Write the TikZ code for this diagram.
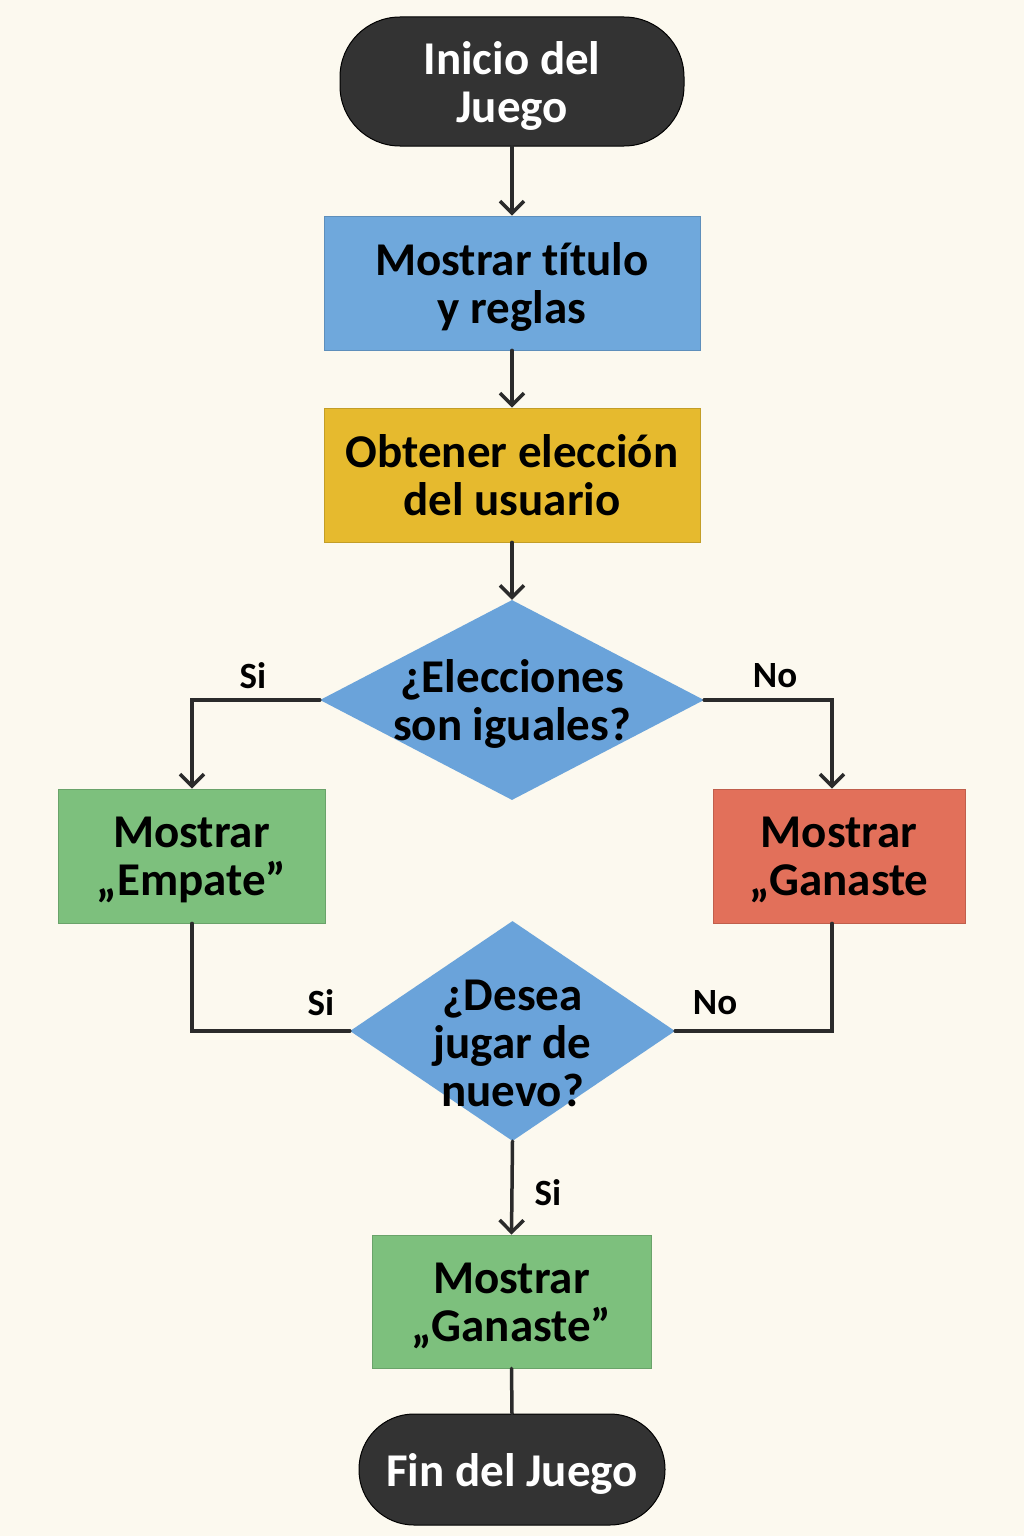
\documentclass[tikz,border=0pt]{standalone}
\usepackage{fontspec}
\setmainfont{Carlito}[Ligatures=NoCommon]
\usetikzlibrary{shapes.geometric,arrows.meta}
\definecolor{bg}{HTML}{FCF9EF}
\definecolor{term}{HTML}{333333}
\definecolor{bblue}{HTML}{6FA8DC}
\definecolor{byellow}{HTML}{E6BA2E}
\definecolor{dblue}{HTML}{6AA3DA}
\definecolor{bgreen}{HTML}{7DC07D}
\definecolor{bred}{HTML}{E2705A}
\definecolor{line}{HTML}{2B2B2B}
\begin{document}
\begin{tikzpicture}[x=1pt,y=-1pt,
  txt/.style={font=\fontsize{47}{48}\selectfont\bfseries, align=center, text=black, yshift=-4pt},
  terminal/.style={rounded corners=60pt, fill=term, draw=black, line width=1pt, inner sep=0pt},
  procbox/.style={draw=#1!85!black, line width=0.8pt, fill=#1, inner sep=0pt},
  decision/.style={diamond, fill=dblue, inner sep=0pt},
  conn/.style={draw=line, line width=3.5pt, line cap=round, line join=miter},
  arr/.style={conn, -{Straight Barb[length=12pt,width=24pt,line width=3.5pt]}},
  lbl/.style={font=\fontsize{37}{38}\selectfont\bfseries, text=black}
]
\fill[bg] (0,0) rectangle (1024,1536);
\useasboundingbox (0,0) rectangle (1024,1536);

% shapes
\node[terminal, minimum width=344, minimum height=129] (start) at (512,81.5) {};
\node[txt, text=white] at (start) {Inicio del\\Juego};

\node[procbox=bblue, minimum width=376, minimum height=134] (b1) at (512,283) {};
\node[txt] at (b1) {Mostrar título\\y reglas};

\node[procbox=byellow, minimum width=376, minimum height=134] (b2) at (512,475) {};
\node[txt, yshift=4pt] at (b2) {Obtener elección\\del usuario};

\node[decision, minimum width=384, minimum height=200] (d1) at (512,700) {};
\node[txt] at (d1) {¿Elecciones\\son iguales?};

\node[procbox=bgreen, minimum width=267, minimum height=134] (bl) at (191.5,856) {};
\node[txt] at (bl) {Mostrar\\„Empate”};

\node[procbox=bred, minimum width=252, minimum height=134] (br) at (839,856) {};
\node[txt] at (br) {Mostrar\\„Ganaste};

\node[decision, minimum width=325, minimum height=220] (d2) at (512.5,1031) {};
\node[txt, yshift=-8pt] at (d2) {¿Desea\\jugar de\\nuevo?};

\node[procbox=bgreen, minimum width=279, minimum height=133] (b3) at (511.5,1301.5) {};
\node[txt] at (b3) {Mostrar\\„Ganaste”};

\node[terminal, rounded corners=55pt, minimum width=306, minimum height=111] (end) at (512,1469.5) {};
\node[txt, text=white] at (end) {Fin del Juego};

% connectors
\draw[arr] (start.south) -- (b1.north);
\draw[arr] (b1.south) -- (b2.north);
\draw[arr] (b2.south) -- (d1.north);
\draw[arr] (d1.west) -| (bl.north -| 192,0);
\draw[arr] (d1.east) -| (br.north -| 832,0);
\draw[conn] (bl.south -| 192,0) |- (d2.west);
\draw[conn] (br.south -| 832,0) |- (d2.east);
\draw[arr] (d2.south) -- (b3.north);
\draw[conn] (b3.south) -- (end.north);

% labels
\node[lbl] (l1) at (253,676) {Si};
\node[lbl] (l2) at (775,676) {No};
\node[lbl] (l3) at (321,1003) {Si};
\node[lbl] (l4) at (715,1003) {No};
\node[lbl] (l5) at (548,1193) {Si};
\end{tikzpicture}
\end{document}
